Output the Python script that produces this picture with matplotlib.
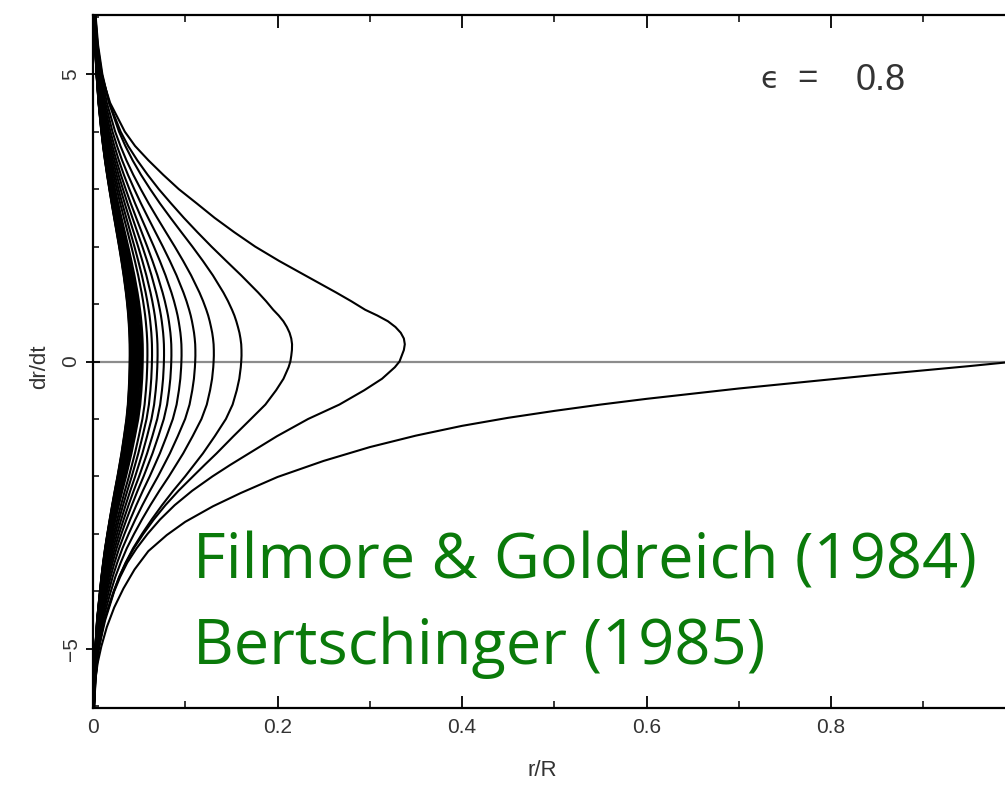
import numpy as np
import matplotlib.pyplot as plt
from matplotlib.ticker import MultipleLocator

plt.rcParams['font.family'] = ['Liberation Sans', 'DejaVu Sans']

# first infall branch (r/R, dr/dt)
infall_r = [1.0, 0.95, 0.9, 0.85, 0.8, 0.75, 0.7, 0.65, 0.6, 0.55, 0.5, 0.45, 0.4,
            0.35, 0.3, 0.25, 0.2, 0.16, 0.13, 0.1, 0.08, 0.06, 0.045, 0.033, 0.023,
            0.015, 0.009, 0.005, 0.0025, 0.001, 0.0003]
infall_v = [0.0, -0.08, -0.155, -0.23, -0.31, -0.39, -0.47, -0.56, -0.65, -0.75,
            -0.86, -0.98, -1.12, -1.29, -1.49, -1.73, -2.01, -2.29, -2.52, -2.79,
            -3.02, -3.3, -3.62, -3.95, -4.28, -4.62, -4.96, -5.25, -5.55, -5.85, -6.3]

# orbit loops, read as r / (turnaround radius) at fixed dr/dt levels
v_levels = [7.0, 6.5, 6.0, 5.5, 5.0, 4.5, 4.0, 3.75, 3.5, 3.25, 3.0, 2.75, 2.5,
            2.25, 2.0, 1.75, 1.5, 1.2, 1.05, 0.9, 0.8, 0.7, 0.6, 0.5, 0.4, 0.3,
            0.2, 0.1, 0.0, -0.1, -0.3, -0.5, -0.75, -1.0, -1.3, -1.6, -1.8, -2.0,
            -2.25, -2.5, -2.75, -3.0, -3.25, -3.5, -3.75, -4.0, -4.5, -5.0, -5.5,
            -6.0, -6.5, -7.0]
# first (outermost) loop: pointed tip
shape_outer = [0.0009, 0.0022, 0.0055, 0.0115, 0.026, 0.055, 0.102, 0.135, 0.178,
               0.225, 0.275, 0.333, 0.39, 0.453, 0.52, 0.597, 0.68, 0.78, 0.828,
               0.873, 0.912, 0.946, 0.97, 0.987, 0.997, 1.0,
               0.997, 0.99, 0.983, 0.968, 0.927, 0.87, 0.79, 0.69, 0.59, 0.50,
               0.44, 0.383, 0.318, 0.262, 0.215, 0.175, 0.14, 0.11, 0.087, 0.068,
               0.039, 0.018, 0.0075, 0.0028, 0.001, 0.0004]
# third loop: rounded tip, used for all the inner ones
shape_inner = [0.004, 0.0087, 0.018, 0.0345, 0.063, 0.108, 0.175, 0.218, 0.267,
               0.323, 0.385, 0.451, 0.522, 0.595, 0.669, 0.74, 0.807, 0.878, 0.909,
               0.936, 0.952, 0.965, 0.976, 0.986, 0.993, 0.998,
               0.9997, 1.0, 0.998, 0.995, 0.985, 0.968, 0.94, 0.895, 0.82, 0.74,
               0.68, 0.62, 0.54, 0.465, 0.395, 0.33, 0.27, 0.22, 0.176, 0.14,
               0.075, 0.038, 0.018, 0.008, 0.0035, 0.0015]

# each loop: turnaround radius, mix of the two shapes, widening of the branches
turn_r = [0.338, 0.216, 0.161, 0.131, 0.111, 0.096, 0.085, 0.077, 0.070, 0.064,
          0.059, 0.054, 0.0525, 0.051, 0.0497, 0.0485, 0.0473, 0.0462, 0.0452,
          0.0443, 0.0435, 0.0428, 0.0421, 0.0415, 0.041, 0.0405, 0.0401, 0.0398]
mix = [0.0, 0.5] + [1] * 26
widen = [1.0, 1.0, 1.0, 0.973, 0.952, 0.933, 0.917, 0.905, 0.892, 0.881,
         0.87, 0.859] + [0.85] * 16

xticks = [0, 0.2, 0.4, 0.6, 0.8]
xtick_labels = ['0', '0.2', '0.4', '0.6', '0.8']
yticks = [-5, 0, 5]
ytick_labels = ['\u22125', '0', '5']

fig = plt.figure(figsize=(10.05, 7.88), dpi=100)
ax = fig.add_axes([93 / 1005, 80 / 788, 922.5 / 1005, 693 / 788])

ax.axhline(0, color='#8c8c8c', lw=1.6, zorder=1)
ax.plot(infall_r, infall_v, color='black', lw=1.5)

s_out = np.array(shape_outer)
s_in = np.array(shape_inner)
for rt, w, p in zip(turn_r, mix, widen):
    x = rt * ((1 - w) * s_out + w * s_in) ** p
    ax.plot(x, v_levels, color='black', lw=1.5)

ax.set_xlim(0, 1.0)
ax.set_ylim(-6.03, 6.03)
ax.set_xticks(xticks)
ax.set_xticklabels(xtick_labels)
ax.set_yticks(yticks)
ax.set_yticklabels(ytick_labels, rotation=90, va='center')
ax.xaxis.set_minor_locator(MultipleLocator(0.1))
ax.yaxis.set_minor_locator(MultipleLocator(1))
ax.tick_params(axis='x', which='major', direction='in', length=9, width=1.3,
               top=True, labelsize=15, pad=7, labelcolor='#333333')
ax.tick_params(axis='x', which='minor', direction='in', length=5, width=1.1, top=True)
ax.tick_params(axis='y', which='major', direction='inout', length=10, width=1.3,
               right=True, labelsize=15, pad=4, labelcolor='#333333')
ax.tick_params(axis='y', which='minor', direction='in', length=4, width=1.1, right=True)
for s in ax.spines.values():
    s.set_linewidth(1.6)

fig.text(542 / 1005, 1 - 770 / 788, 'r/R', fontsize=16, ha='center', va='center',
         color='#333333')
fig.text(40 / 1005, 1 - 367 / 788, 'dr/dt', fontsize=16, ha='center', va='center',
         rotation=90, color='#333333')

fig.text(760 / 1005, 1 - 88 / 788, '\u03f5', fontsize=22, ha='left', va='baseline',
         color='#333333', family=['DejaVu Sans'])
fig.text(807 / 1005, 1 - 88 / 788, '=', fontsize=25, ha='center', va='baseline',
         color='#333333')
fig.text(856 / 1005, 1 - 90 / 788, '0.8', fontsize=26, ha='left', va='baseline',
         color='#333333')

fig.text(193 / 1005, 1 - 578 / 788, 'Filmore & Goldreich (1984)', fontsize=45.5,
         ha='left', va='baseline', color='#0a7a0a', family=['Open Sans'])
fig.text(193 / 1005, 1 - 664 / 788, 'Bertschinger (1985)', fontsize=45.5,
         ha='left', va='baseline', color='#0a7a0a', family=['Open Sans'])

fig.savefig('out.png', dpi=100)
